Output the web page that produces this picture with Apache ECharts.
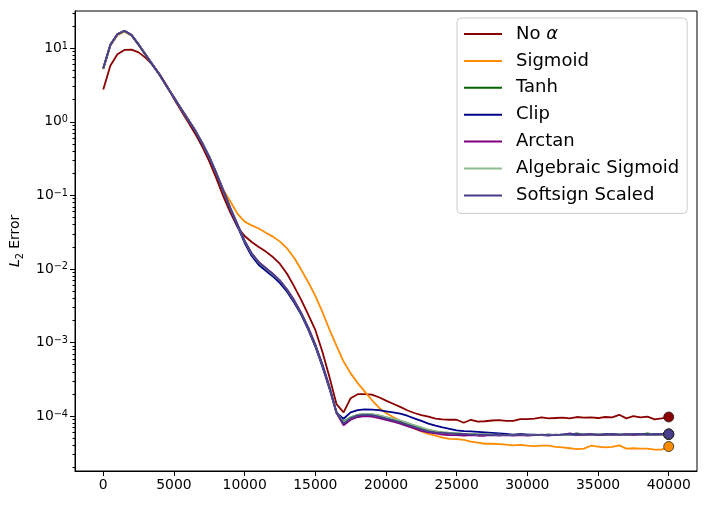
<!DOCTYPE html>
<html><head><meta charset="utf-8">
<script src="https://cdn.jsdelivr.net/npm/echarts@6/dist/echarts.min.js"></script>
<style>html,body{margin:0;padding:0;background:#fff}#c{width:705px;height:505px}</style>
</head><body><div id="c"></div>
<script>
const iterations = [
  0,500,1000,1500,2000,2500,3000,3500,4000,4500,5000,
  5500,6000,6500,7000,7500,8000,8500,9000,9500,10000,
  10500,11000,11500,12000,12500,13000,13500,14000,14500,15000,
  15500,16000,16500,17000,17500,18000,18500,19000,19500,20000,
  20500,21000,21500,22000,22500,23000,23500,24000,24500,25000,
  25500,26000,26500,27000,27500,28000,28500,29000,29500,30000,
  30500,31000,31500,32000,32500,33000,33500,34000,34500,35000,
  35500,36000,36500,37000,37500,38000,38500,39000,39500,40000
];
const seriesNames = ['No α','Sigmoid','Tanh','Clip','Arctan','Algebraic Sigmoid','Softsign Scaled'];
const seriesColors = ['#8B0000','#FF8C00','#006400','#00008B','#800080','#8FBC8F','#483D8B'];

const noAlpha = [
  2.75,5.8,8.3,9.5,9.6,8.8,7.4,5.9,4.4,3.1,2.05,
  1.42,0.99,0.69,0.46,0.29,0.17,0.096,0.058,0.037,0.028,
  0.0232,0.0198,0.0172,0.0145,0.0117,0.0086,0.0058,0.0038,0.0024,0.00148,
  7.5e-4,3.4e-4,1.45e-4,1.12e-4,1.75e-4,1.98e-4,1.99e-4,1.96e-4,1.8e-4,1.62e-4,
  1.47e-4,1.33e-4,1.2e-4,1.1e-4,1.03e-4,9.8e-5,9.2e-5,9.0e-5,8.9e-5,8.9e-5,
  8.1e-5,8.9e-5,8.4e-5,8.5e-5,8.7e-5,8.8e-5,8.6e-5,8.6e-5,9.1e-5,9.1e-5,
  9.2e-5,9.6e-5,9.3e-5,9.4e-5,9.5e-5,9.3e-5,9.7e-5,9.5e-5,9.6e-5,9.4e-5,
  9.7e-5,9.6e-5,1.04e-4,9.3e-5,1.0e-4,9.6e-5,9.8e-5,9.0e-5,9.3e-5,9.7e-5
];
const sigmoid = [
  5.2,10.8,15.0,16.8,14.8,11.0,8.0,5.9,4.3,3.0,2.14,
  1.51,1.07,0.76,0.51,0.33,0.2,0.118,0.082,0.056,0.044,
  0.039,0.0355,0.031,0.0275,0.0235,0.019,0.0142,0.0098,0.0066,0.0043,
  2.6e-3,1.5e-3,9.0e-4,5.5e-4,3.8e-4,2.8e-4,2.15e-4,1.65e-4,1.3e-4,1.1e-4,
  9.7e-5,8.6e-5,7.6e-5,6.8e-5,6.2e-5,5.7e-5,5.4e-5,5.1e-5,4.9e-5,4.85e-5,
  4.75e-5,4.5e-5,4.35e-5,4.2e-5,4.2e-5,4.15e-5,4.1e-5,4.0e-5,4.05e-5,3.95e-5,
  3.9e-5,3.95e-5,3.95e-5,3.8e-5,3.75e-5,3.65e-5,3.55e-5,3.6e-5,3.95e-5,3.85e-5,
  3.75e-5,3.8e-5,4.0e-5,3.6e-5,3.65e-5,3.6e-5,3.6e-5,3.5e-5,3.5e-5,3.85e-5
];
const tanh = [
  5.3,11.1,15.6,17.2,15.0,11.3,8.2,5.9,4.35,3.0,2.15,
  1.52,1.08,0.77,0.52,0.335,0.2,0.116,0.066,0.0395,0.0235,
  0.0158,0.012,0.0099,0.0083,0.0068,0.0051,0.0036,0.00245,0.00155,9.0e-4,
  4.9e-4,2.45e-4,1.13e-4,8.4e-5,9.6e-5,1.04e-4,1.06e-4,1.05e-4,1.01e-4,9.6e-5,
  9.1e-5,8.6e-5,8.0e-5,7.4e-5,6.9e-5,6.5e-5,6.2e-5,6.0e-5,5.9e-5,5.8e-5,
  5.7e-5,5.7e-5,5.6e-5,5.6e-5,5.6e-5,5.5e-5,5.6e-5,5.5e-5,5.5e-5,5.6e-5,
  5.5e-5,5.5e-5,5.6e-5,5.5e-5,5.6e-5,5.6e-5,5.8e-5,5.6e-5,5.7e-5,5.6e-5,
  5.5e-5,5.7e-5,5.6e-5,5.7e-5,5.6e-5,5.6e-5,5.8e-5,5.6e-5,5.6e-5,5.6e-5
];
const clip = [
  5.3,11.0,15.4,17.2,15.1,11.2,8.1,5.9,4.3,3.0,2.13,
  1.5,1.06,0.75,0.5,0.325,0.195,0.112,0.064,0.038,0.0225,
  0.015,0.0113,0.0094,0.0079,0.0064,0.0049,0.0035,0.0024,0.0015,8.8e-4,
  4.7e-4,2.35e-4,1.1e-4,9.2e-5,1.12e-4,1.2e-4,1.23e-4,1.22e-4,1.2e-4,1.16e-4,
  1.12e-4,1.08e-4,1.01e-4,9.3e-5,8.6e-5,7.9e-5,7.4e-5,7.0e-5,6.7e-5,6.4e-5,
  6.25e-5,6.2e-5,6.1e-5,6.0e-5,5.9e-5,5.8e-5,5.7e-5,5.6e-5,5.7e-5,5.6e-5,
  5.6e-5,5.5e-5,5.6e-5,5.5e-5,5.6e-5,5.6e-5,5.5e-5,5.6e-5,5.7e-5,5.6e-5,
  5.7e-5,5.6e-5,5.7e-5,5.6e-5,5.6e-5,5.7e-5,5.6e-5,5.6e-5,5.7e-5,5.7e-5
];
const arctan = [
  5.35,11.2,15.6,17.3,15.2,11.3,8.2,6.0,4.35,3.05,2.16,
  1.52,1.08,0.77,0.52,0.335,0.2,0.117,0.067,0.0405,0.0242,
  0.0163,0.0124,0.0103,0.0086,0.007,0.0053,0.0038,0.00255,0.0016,9.4e-4,
  5.0e-4,2.5e-4,1.1e-4,7.5e-5,8.9e-5,9.7e-5,1.0e-4,9.8e-5,9.4e-5,8.9e-5,
  8.4e-5,7.9e-5,7.3e-5,6.8e-5,6.3e-5,6.0e-5,5.8e-5,5.6e-5,5.5e-5,5.5e-5,
  5.4e-5,5.5e-5,5.4e-5,5.4e-5,5.5e-5,5.4e-5,5.5e-5,5.4e-5,5.5e-5,5.4e-5,
  5.5e-5,5.5e-5,5.4e-5,5.6e-5,5.5e-5,5.8e-5,5.6e-5,5.5e-5,5.7e-5,5.5e-5,
  5.6e-5,5.5e-5,5.6e-5,5.7e-5,5.5e-5,5.6e-5,5.6e-5,5.7e-5,5.6e-5,5.7e-5
];
const algebraicSigmoid = [
  5.3,11.1,15.5,17.2,15.1,11.2,8.15,5.95,4.3,3.0,2.15,
  1.51,1.07,0.765,0.515,0.332,0.2,0.115,0.066,0.0398,0.0238,
  0.016,0.0122,0.0101,0.0084,0.0069,0.0052,0.0037,0.0025,0.00157,9.2e-4,
  4.95e-4,2.48e-4,1.12e-4,8.3e-5,9.5e-5,1.04e-4,1.07e-4,1.06e-4,1.02e-4,9.7e-5,
  9.2e-5,8.7e-5,8.1e-5,7.5e-5,7.0e-5,6.5e-5,6.2e-5,6.0e-5,5.9e-5,5.8e-5,
  5.7e-5,5.7e-5,5.6e-5,5.7e-5,5.6e-5,5.6e-5,5.5e-5,5.6e-5,5.6e-5,5.5e-5,
  5.6e-5,5.5e-5,5.6e-5,5.6e-5,5.5e-5,5.6e-5,5.7e-5,5.6e-5,5.6e-5,5.7e-5,
  5.6e-5,5.6e-5,5.7e-5,5.6e-5,5.7e-5,5.6e-5,5.6e-5,5.7e-5,5.6e-5,5.6e-5
];
const softsignScaled = [
  5.35,11.2,15.5,17.3,15.1,11.2,8.1,5.9,4.3,3.0,2.14,
  1.51,1.07,0.76,0.51,0.33,0.2,0.115,0.066,0.04,0.024,
  0.0162,0.0123,0.0102,0.0085,0.0069,0.0052,0.0037,0.0025,0.00158,9.3e-4,
  5.0e-4,2.5e-4,1.12e-4,7.9e-5,9.3e-5,1.02e-4,1.04e-4,1.03e-4,9.8e-5,9.2e-5,
  8.7e-5,8.2e-5,7.6e-5,7.1e-5,6.6e-5,6.2e-5,6.0e-5,5.9e-5,5.8e-5,5.7e-5,
  5.7e-5,5.6e-5,5.6e-5,5.6e-5,5.5e-5,5.6e-5,5.5e-5,5.5e-5,5.6e-5,5.5e-5,
  5.5e-5,5.6e-5,5.5e-5,5.5e-5,5.6e-5,5.7e-5,5.7e-5,5.6e-5,5.6e-5,5.6e-5,
  5.6e-5,5.7e-5,5.6e-5,5.6e-5,5.7e-5,5.7e-5,5.6e-5,5.7e-5,5.7e-5,5.7e-5
];
const xTicks = [0,5000,10000,15000,20000,25000,30000,35000,40000];
const yTicks = [1e-4,1e-3,1e-2,1e-1,1,10];
const yMinorTicks = [2e-5,3e-5,4e-5,5e-5,6e-5,7e-5,8e-5,9e-5,
  2e-4,3e-4,4e-4,5e-4,6e-4,7e-4,8e-4,9e-4,
  2e-3,3e-3,4e-3,5e-3,6e-3,7e-3,8e-3,9e-3,
  2e-2,3e-2,4e-2,5e-2,6e-2,7e-2,8e-2,9e-2,
  0.2,0.3,0.4,0.5,0.6,0.7,0.8,0.9,2,3,4,5,6,7,8,9,20,30];

const allValues = [noAlpha, sigmoid, tanh, clip, arctan, algebraicSigmoid, softsignScaled];
const FONT = 'DejaVu Sans';
const Y_MIN = 1.79e-5, Y_MAX = 32.1;

function supLabel(v) {
  const e = Math.round(Math.log10(v));
  return '10{sup|' + (e < 0 ? '\u2212' + (-e) : String(e)) + '}';
}

const series = [];
allValues.forEach((vals, k) => {
  series.push({
    name: seriesNames[k], type: 'line', symbol: 'none', showSymbol: false,
    data: iterations.map((x, i) => [x, vals[i]]),
    lineStyle: { width: 1.8, color: seriesColors[k] },
    itemStyle: { color: seriesColors[k] },
    z: 2 + k * 0.01, animation: false, silent: true
  });
});
allValues.forEach((vals, k) => {
  series.push({
    name: seriesNames[k] + ' end', type: 'scatter', symbol: 'circle', symbolSize: 10,
    data: [[iterations[iterations.length - 1], vals[vals.length - 1]]],
    itemStyle: { color: seriesColors[k], borderColor: '#222', borderWidth: 0.8, opacity: 1 },
    z: 5, animation: false, silent: true
  });
});

const chart = echarts.init(document.getElementById('c'), null, { renderer: 'canvas' });
chart.setOption({
  animation: false,
  backgroundColor: '#fff',
  grid: { left: 75, right: 8, top: 11, bottom: 34, show: true, borderColor: '#000', borderWidth: 1, backgroundColor: 'transparent' },
  xAxis: {
    type: 'value', min: -2000, max: 42000,
    axisLine: { show: true, onZero: false, lineStyle: { color: '#000', width: 1 } },
    axisTick: { show: true, length: 5, lineStyle: { color: '#000' }, customValues: xTicks },
    axisLabel: { customValues: xTicks, color: '#000', fontFamily: FONT, fontSize: 13.9, margin: 7,
      formatter: function (v) { return String(v); } },
    splitLine: { show: false }
  },
  yAxis: [{
    type: 'log', min: Y_MIN, max: Y_MAX, position: 'left',
    axisLine: { show: true, onZero: false, lineStyle: { color: '#000', width: 1 } },
    axisTick: { show: true, length: 5, lineStyle: { color: '#000' }, customValues: yTicks },
    axisLabel: {
      customValues: yTicks, color: '#000', fontFamily: FONT, fontSize: 13.9, margin: 7,
      formatter: supLabel,
      rich: { sup: { fontSize: 9.7, fontFamily: FONT, color: '#000', verticalAlign: 'top', lineHeight: 10 } }
    },
    splitLine: { show: false },
    name: '{it|L}{sub|2} Error', nameLocation: 'middle', nameRotate: 90, nameGap: 50,
    nameTextStyle: {
      color: '#000', fontFamily: FONT, fontSize: 13.9,
      rich: {
        it: { fontStyle: 'italic', fontFamily: FONT, fontSize: 13.9, color: '#000' },
        sub: { fontSize: 9.7, fontFamily: FONT, color: '#000', verticalAlign: 'bottom', lineHeight: 19 }
      }
    }
  }, {
    type: 'log', min: Y_MIN, max: Y_MAX, position: 'left',
    axisLine: { show: false, onZero: false },
    axisTick: { show: true, length: 2.5, lineStyle: { color: '#000' }, customValues: yMinorTicks },
    axisLabel: { show: false },
    splitLine: { show: false }
  }],
  legend: {
    data: seriesNames, orient: 'vertical', left: 457, top: 18, padding: [6, 8, 8, 7],
    icon: 'rect', itemWidth: 38, itemHeight: 2, itemGap: 6.9,
    backgroundColor: 'rgba(255,255,255,0.8)', borderColor: '#cccccc', borderWidth: 1, borderRadius: 4,
    selectedMode: false,
    formatter: function (n) { return n === 'No α' ? 'No {a|α}' : n; },
    textStyle: {
      fontFamily: FONT, fontSize: 18, color: '#000', lineHeight: 20, padding: [0, 0, 0, 9],
      rich: { a: { fontStyle: 'italic', fontFamily: FONT, fontSize: 18, color: '#000' } }
    }
  },
  series: series
});
</script></body></html>
